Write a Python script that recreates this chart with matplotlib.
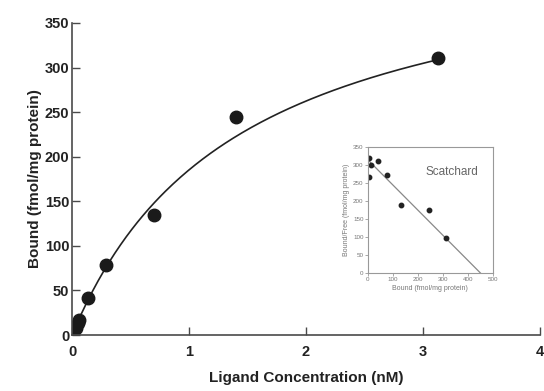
import numpy as np
import matplotlib
matplotlib.use("Agg")
import matplotlib.pyplot as plt

plt.rcParams['font.family'] = ['Liberation Sans', 'DejaVu Sans']

# saturation binding data
ligand_nM = [0.0, 0.01, 0.03, 0.05, 0.06, 0.14, 0.29, 0.70, 1.40, 3.13]
bound = [0, 3, 8, 14, 17, 41, 78, 135, 244, 311]

# fitted one-site parameters
bmax = 450
kd = 1.43

# scatchard data
sc_bound = [5, 5, 15, 40, 78, 134, 243, 311]
sc_ratio = [320, 268, 300, 312, 272, 190, 175, 97]
sc_line_x = [5, 450]

axis_col = '#4a4a4a'

fig = plt.figure(figsize=(5.44, 3.91), dpi=100)
ax = fig.add_axes([0.1324, 0.1432, 0.860, 0.798])

xfit = np.linspace(0, 3.18, 200)
ax.plot(xfit, bmax * xfit / (kd + xfit), color='#222222', lw=1.2)
ax.plot(ligand_nM, bound, 'o', color='#1a1a1a', ms=9)

ax.set_xlim(0, 4)
ax.set_ylim(0, 350)
ax.set_xticks([0, 1, 2, 3, 4])
ax.set_yticks(range(0, 351, 50))
for s in ['top', 'right']:
    ax.spines[s].set_visible(False)
for s in ['left', 'bottom']:
    ax.spines[s].set_color(axis_col)
    ax.spines[s].set_linewidth(1.2)
ax.tick_params(direction='in', length=6, width=1.0, color=axis_col,
               labelsize=10.5, pad=2)
ax.tick_params(axis='x', pad=7)
for lab in ax.get_xticklabels() + ax.get_yticklabels():
    lab.set_fontweight('bold')
    lab.set_color('#222222')
ax.set_xlabel('Ligand Concentration (nM)', fontsize=11, fontweight='bold',
              color='#222222', labelpad=9)
ax.set_ylabel('Bound (fmol/mg protein)', fontsize=11, fontweight='bold',
              color='#222222', labelpad=2)

# inset Scatchard plot
ins = fig.add_axes([0.676, 0.302, 0.230, 0.322])
sc_line_x = np.array(sc_line_x)
ins.plot(sc_line_x, (bmax - sc_line_x) / kd, color='#888888', lw=0.9)
ins.plot(sc_bound, sc_ratio, 'o', color='#222222', ms=3.2)
ins.set_xlim(0, 500)
ins.set_ylim(0, 350)
ins.set_xticks(range(0, 501, 100))
ins.set_yticks(range(0, 351, 50))
for s in ins.spines.values():
    s.set_color('#999999')
    s.set_linewidth(0.8)
ins.tick_params(direction='out', length=2, width=0.6, color='#999999',
                labelsize=4.5, labelcolor='#777777', pad=1)
ins.set_xlabel('Bound (fmol/mg protein)', fontsize=5, color='#777777', labelpad=2)
ins.set_ylabel('Bound/Free (fmol/mg protein)', fontsize=5, color='#777777', labelpad=2)
ins.text(0.67, 0.80, 'Scatchard', transform=ins.transAxes, ha='center',
         va='center', fontsize=8.5, color='#666666')

fig.savefig('out.png', dpi=100)
